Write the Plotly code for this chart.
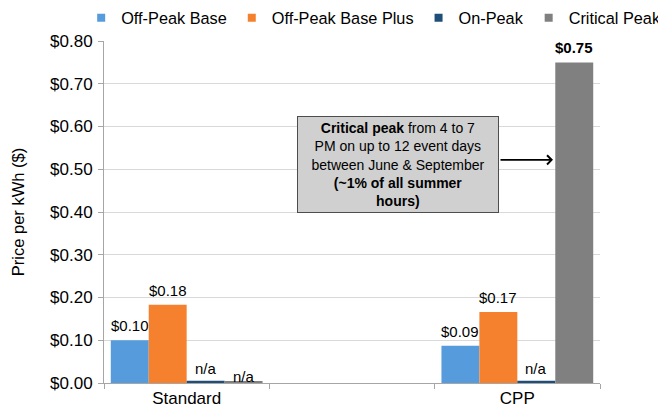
import plotly.graph_objects as go

categories = ["Standard", " ", "CPP"]
series_names = ["Off-Peak Base", "Off-Peak Base Plus", "On-Peak", "Critical Peak"]
off_peak_base = [0.10, None, 0.087]
off_peak_base_plus = [0.183, None, 0.166]
on_peak = [0.005, None, 0.005]
critical_peak = [0.004, None, 0.75]
labels_off_peak_base = ["$0.10", "", "$0.09"]
labels_off_peak_base_plus = ["$0.18", "", "$0.17"]
labels_on_peak = ["n/a", "", "n/a"]
labels_critical_peak = ["n/a", "", "<b>$0.75</b>"]
y_ticks = [0.0, 0.1, 0.2, 0.3, 0.4, 0.5, 0.6, 0.7, 0.8]
y_tick_text = ["$0.00", "$0.10", "$0.20", "$0.30", "$0.40", "$0.50", "$0.60", "$0.70", "$0.80"]
colors = ["#569CDC", "#F5812F", "#1F4E79", "#808080"]

FONT = "Liberation Sans, Arial, sans-serif"

# the page shows the figure with an 8px body margin, so the figure is sized to fit
W, H = 658, 403
L, R, T, B = 96, 66, 33, 28
BARGAP = 0.082
plot_w = W - L - R
cat_w = plot_w / len(categories)
bar_w = cat_w * (1 - BARGAP) / len(series_names)

fig = go.Figure()
all_vals = [off_peak_base, off_peak_base_plus, on_peak, critical_peak]
all_labels = [labels_off_peak_base, labels_off_peak_base_plus, labels_on_peak, labels_critical_peak]
for i, (name, vals, labs, col) in enumerate(zip(series_names, all_vals, all_labels, colors)):
    fig.add_trace(go.Bar(
        x=categories, y=vals, name=name, marker=dict(color=col, line=dict(width=0)),
        showlegend=False,
    ))
    offset = (i - (len(series_names) - 1) / 2) * bar_w
    for cat, v, lab in zip(categories, vals, labs):
        if v is None or not lab:
            continue
        if lab == "n/a":
            # the n/a label of the tiny Standard critical-peak bar sits lower
            ys = -6 if name == "Critical Peak" else 2
        else:
            ys = 4
        fig.add_annotation(
            x=cat, y=v, xref="x", yref="y", text=lab, showarrow=False,
            xshift=offset, yshift=ys, yanchor="bottom",
            font=dict(family=FONT, size=15, color="#000000"),
        )
# legend proxies with small square markers
for name, col in zip(series_names, colors):
    fig.add_trace(go.Scatter(
        x=[None], y=[None], mode="markers", name=name,
        marker=dict(symbol="square", size=8, color=col),
    ))

fig.add_annotation(
    x=(390 - L) / plot_w, y=0.51, xref="paper", yref="y",
    text="<b>Critical peak</b> from 4 to 7<br>PM on up to 12 event days<br>between June &amp; September<br><b>(~1% of all summer</b><br><b>hours)</b>",
    showarrow=False, align="center", width=196, height=91,
    bgcolor="#D0D0D0", bordercolor="#4D4D4D", borderwidth=1, borderpad=2,
    font=dict(family=FONT, size=14, color="#000000"),
)
fig.add_annotation(
    x=(545 - L) / plot_w, y=0.522, xref="paper", yref="y",
    ax=-54, ay=0, axref="pixel", ayref="pixel",
    text="", showarrow=True, arrowhead=4, arrowsize=1.1, arrowwidth=1.6, arrowcolor="#000000",
)

fig.update_layout(
    width=W, height=H,
    margin=dict(l=L, r=R, t=T, b=B, autoexpand=False),
    paper_bgcolor="#FFFFFF", plot_bgcolor="#FFFFFF",
    font=dict(family=FONT, size=17, color="#000000"),
    barmode="group", bargap=BARGAP, bargroupgap=0,
    legend=dict(orientation="h", x=-0.046, y=1.067, xanchor="left", yanchor="middle",
                font=dict(family=FONT, size=16.3), itemwidth=30,
                bgcolor="rgba(0,0,0,0)", tracegroupgap=0),
    xaxis=dict(
        type="category", categoryorder="array", categoryarray=categories,
        showline=True, linecolor="#A6A6A6", linewidth=1, automargin=False,
        ticks="outside", tickson="boundaries", ticklen=5, tickcolor="#A6A6A6",
        showgrid=False, tickfont=dict(family=FONT, size=17),
    ),
    yaxis=dict(
        range=[0, 0.8], tickvals=y_ticks, ticktext=y_tick_text,
        showline=True, linecolor="#A6A6A6", linewidth=1, automargin=False,
        ticks="outside", ticklen=5, tickcolor="#A6A6A6", ticklabelstandoff=2,
        showgrid=True, gridcolor="#D9D9D9", gridwidth=1,
        zeroline=False, tickfont=dict(family=FONT, size=17),
        title=dict(text="Price per kWh ($)", font=dict(family=FONT, size=16.5), standoff=21),
    ),
)

fig.write_html("out.html")
